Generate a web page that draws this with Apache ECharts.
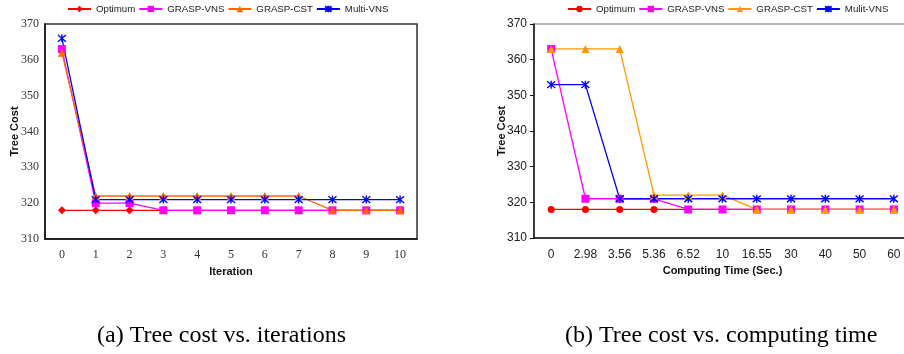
<!DOCTYPE html>
<html>
<head>
<meta charset="utf-8">
<script src="https://cdn.jsdelivr.net/npm/echarts@6/dist/echarts.min.js"></script>
<style>html,body{margin:0;padding:0;background:#fff;overflow:hidden}#c{width:912px;height:354px}</style>
</head>
<body>
<div id="c"></div>
<script>
// ---- data ----
var iterCats = ['0','1','2','3','4','5','6','7','8','9','10'];
var iterOptimum  = [318,318,318,318,318,318,318,318,318,318,318];
var iterGraspVns = [363,320,320,318,318,318,318,318,318,318,318];
var iterGraspCst = [362,322,322,322,322,322,322,322,318,318,318];
var iterMultiVns = [366,321,321,321,321,321,321,321,321,321,321];

var timeCats = ['0','2.98','3.56','5.36','6.52','10','16.55','30','40','50','60'];
var timeOptimum  = [318,318,318,318,318,318,318,318,318,318,318];
var timeGraspVns = [363,321,321,321,318,318,318,318,318,318,318];
var timeGraspCst = [363,363,363,322,322,322,318,318,318,318,318];
var timeMultiVns = [353,353,321,321,321,321,321,321,321,321,321];

var yTicksMin = 310, yTicksMax = 370, yTickStep = 10;

var starPath = 'path://M0,0L10,10M10,0L0,10M5,-1L5,11';

var chart = echarts.init(document.getElementById('c'));
function mk(name, data, xi, color, symbol, size, star) {
  return {
    name: name, type: 'line', xAxisIndex: xi, yAxisIndex: xi, data: data,
    symbol: symbol, symbolSize: size, showSymbol: true,
    lineStyle: {color: color, width: 1.3},
    itemStyle: star ? {color: color, borderColor: color, borderWidth: 1.4} : {color: color},
    animation: false
  };
}
var serifLbl = {fontFamily: 'Liberation Serif', fontSize: 12, color: '#333'};
var sansLbl = {fontFamily: 'Liberation Sans', fontSize: 12, color: '#222'};
var nameStyle = {fontFamily: 'Liberation Sans', fontSize: 11, fontWeight: 'bold', color: '#111'};
var legText = {fontFamily: 'Liberation Sans', fontSize: 9.7, color: '#222'};

chart.setOption({
  animation: false,
  grid: [
    {left: 45, top: 24, width: 372, height: 215, show: true, borderColor: '#333', borderWidth: 1.5, containLabel: false},
    {left: 534, top: 24, width: 377, height: 214, show: true, borderColor: '#a0a0a0', borderWidth: 1.5, containLabel: false}
  ],
  legend: [
    {left: 62, top: -1, width: 400, itemWidth: 23, itemHeight: 8, itemGap: 3,
     textStyle: legText,
     data: ['Optimum','GRASP-VNS','GRASP-CST','Multi-VNS']},
    {left: 562, top: -1, width: 400, itemWidth: 23, itemHeight: 8, itemGap: 3,
     textStyle: legText,
     data: ['Optimum (b)','GRASP-VNS (b)','GRASP-CST (b)','Mulit-VNS'],
     formatter: function(n){return n.replace(' (b)','');}}
  ],
  xAxis: [
    {type: 'category', gridIndex: 0, data: iterCats, boundaryGap: true,
     axisLine: {lineStyle: {color: '#111', width: 1.5}},
     axisTick: {inside: true, length: 4, interval: 0, lineStyle: {color: '#111'}},
     axisLabel: Object.assign({margin: 10, interval: 0}, serifLbl),
     name: 'Iteration', nameLocation: 'middle', nameGap: 27, nameTextStyle: nameStyle},
    {type: 'category', gridIndex: 1, data: timeCats, boundaryGap: true,
     axisLine: {lineStyle: {color: '#111', width: 1.5}},
     axisTick: {inside: false, length: 4, interval: 0, lineStyle: {color: '#111'}},
     axisLabel: Object.assign({margin: 11, interval: 0}, sansLbl),
     name: 'Computing Time (Sec.)', nameLocation: 'middle', nameGap: 27, nameTextStyle: nameStyle}
  ],
  yAxis: [
    {type: 'value', gridIndex: 0, min: yTicksMin, max: yTicksMax, interval: yTickStep,
     axisLine: {show: true, lineStyle: {color: '#111', width: 1.5}},
     axisTick: {show: false}, splitLine: {show: false},
     axisLabel: Object.assign({margin: 6}, serifLbl),
     name: 'Tree Cost', nameLocation: 'middle', nameGap: 25, nameMoveOverlap: false, nameTextStyle: nameStyle},
    {type: 'value', gridIndex: 1, min: yTicksMin, max: yTicksMax, interval: yTickStep,
     axisLine: {show: true, lineStyle: {color: '#111', width: 1.5}},
     axisTick: {show: true, length: 4, lineStyle: {color: '#111'}}, splitLine: {show: false},
     axisLabel: Object.assign({margin: 7}, sansLbl),
     name: 'Tree Cost', nameLocation: 'middle', nameGap: 27, nameMoveOverlap: false, nameTextStyle: nameStyle}
  ],
  series: [
    mk('Optimum', iterOptimum, 0, '#FF0000', 'diamond', 8),
    mk('GRASP-VNS', iterGraspVns, 0, '#FF00FF', 'rect', 8),
    mk('GRASP-CST', iterGraspCst, 0, '#FF6600', 'triangle', 8),
    mk('Multi-VNS', iterMultiVns, 0, '#0000FF', starPath, 8, true),
    mk('Optimum (b)', timeOptimum, 1, '#FF0000', 'circle', 7),
    mk('GRASP-VNS (b)', timeGraspVns, 1, '#FF00FF', 'rect', 8),
    mk('GRASP-CST (b)', timeGraspCst, 1, '#FF9900', 'triangle', 8),
    mk('Mulit-VNS', timeMultiVns, 1, '#0000FF', starPath, 8, true)
  ],
  graphic: [
    {type: 'text', left: 97, top: 324, style: {text: '(a) Tree cost vs. iterations', font: '24px "Liberation Serif"', fill: '#000'}},
    {type: 'text', left: 565, top: 324, style: {text: '(b) Tree cost vs. computing time', font: '24px "Liberation Serif"', fill: '#000'}}
  ]
});
</script>
</body>
</html>
